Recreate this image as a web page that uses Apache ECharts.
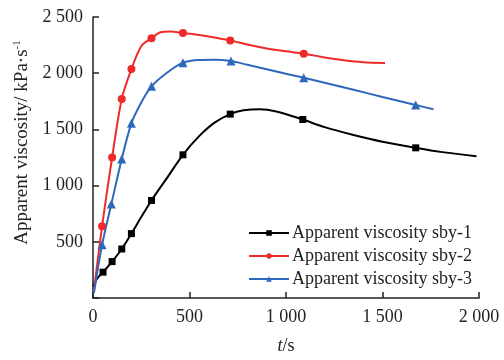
<!DOCTYPE html>
<html>
<head>
<meta charset="utf-8">
<script src="https://cdn.jsdelivr.net/npm/echarts@6/dist/echarts.min.js"></script>
<style>
	html, body { margin: 0; padding: 0; background: #fff; }
	#chart { width: 504px; height: 360px; }
</style>
</head>
<body>
<div id="chart"></div>
<script>
	// t/s and apparent viscosity (kPa·s^-1)
	const t1 = [0, 20, 52, 99, 149, 199, 250, 303, 380, 466, 550, 630, 711, 780, 865, 950, 1087, 1200, 1350, 1500, 1672, 1800, 1987];
	const v1 = [100, 170, 230, 324, 436, 573, 720, 868, 1060, 1274, 1440, 1560, 1636, 1670, 1680, 1660, 1588, 1520, 1450, 1390, 1336, 1300, 1262];
	const mark1 = [2, 3, 4, 5, 7, 9, 12, 16, 20];

	const t2 = [5, 47, 99, 149, 199, 250, 303, 350, 400, 466, 550, 630, 711, 800, 900, 1000, 1092, 1200, 1300, 1400, 1513];
	const v2 = [70, 639, 1250, 1771, 2037, 2240, 2311, 2365, 2372, 2357, 2340, 2318, 2292, 2255, 2220, 2195, 2174, 2140, 2115, 2098, 2091];
	const mark2 = [1, 2, 3, 4, 6, 9, 12, 16];

	const t3 = [5, 47, 95, 149, 199, 250, 303, 380, 466, 550, 630, 715, 800, 900, 1000, 1092, 1200, 1350, 1500, 1672, 1764];
	const v3 = [45, 473, 836, 1237, 1554, 1740, 1883, 2000, 2094, 2118, 2120, 2108, 2075, 2035, 1995, 1960, 1915, 1852, 1789, 1717, 1679];
	const mark3 = [1, 2, 3, 4, 6, 8, 11, 15, 19];

	const names = ['Apparent viscosity sby-1', 'Apparent viscosity sby-2', 'Apparent viscosity sby-3'];
	const colors = ['#000000', '#ee2a2a', '#2d68bc'];
	const symbols = ['rect', 'circle', 'triangle'];
	const symbolSizes = [7, 8, 9];

	const fontFamily = '"Liberation Serif", "DejaVu Serif", serif';
	const textColor = '#222';

	function buildData(ts, vs, marks) {
		return ts.map(function (t, i) {
			const item = { value: [t, vs[i]] };
			if (marks.indexOf(i) < 0) item.symbol = 'none';
			return item;
		});
	}

	function fmt(v) {
		if (v >= 1000) {
			const s = String(v);
			return s.slice(0, s.length - 3) + ' ' + s.slice(-3);
		}
		return String(v);
	}

	const seriesData = [buildData(t1, v1, mark1), buildData(t2, v2, mark2), buildData(t3, v3, mark3)];

	const chart = echarts.init(document.getElementById('chart'));
	chart.setOption({
		animation: false,
		backgroundColor: '#fff',
		textStyle: { fontFamily: fontFamily },
		grid: { left: 93, right: 25, top: 17, bottom: 52 },
		legend: {
			orient: 'vertical',
			right: 27,
			top: 219,
			itemWidth: 40,
			itemHeight: 7,
			itemGap: 5,
			textStyle: { fontFamily: fontFamily, fontSize: 18, color: textColor, padding: [0, 0, 0, -2] },
			data: names
		},
		xAxis: {
			type: 'value',
			min: 0,
			max: 2000,
			interval: 500,
			name: '{it|t}/s',
			nameLocation: 'middle',
			nameGap: 39,
			nameTextStyle: {
				fontFamily: fontFamily, fontSize: 18, color: textColor,
				rich: { it: { fontFamily: fontFamily, fontSize: 18, fontStyle: 'italic', color: textColor } }
			},
			axisLine: { lineStyle: { color: textColor, width: 1.5 } },
			axisTick: { inside: true, length: 6, lineStyle: { color: textColor, width: 1.5 } },
			axisLabel: { fontFamily: fontFamily, fontSize: 18, color: textColor, margin: 10, formatter: fmt },
			splitLine: { show: false }
		},
		yAxis: {
			type: 'value',
			min: 0,
			max: 2500,
			interval: 500,
			name: 'Apparent viscosity/ kPa·s{sup|-1}',
			nameLocation: 'middle',
			nameRotate: 90,
			nameGap: 61,
			nameTextStyle: {
				fontFamily: fontFamily, fontSize: 19, color: textColor,
				padding: [0, 0, 0, 30],
				rich: { sup: { fontFamily: fontFamily, fontSize: 11, color: textColor, verticalAlign: 'top', padding: [0, 0, 9, 0] } }
			},
			axisLine: { show: true, lineStyle: { color: textColor, width: 1.5 } },
			axisTick: { show: true, inside: true, length: 6, lineStyle: { color: textColor, width: 1.5 } },
			axisLabel: {
				fontFamily: fontFamily, fontSize: 18, color: textColor, margin: 10,
				formatter: function (v) { return v === 0 ? '' : fmt(v); }
			},
			splitLine: { show: false }
		},
		series: names.map(function (n, i) {
			return {
				name: n,
				type: 'line',
				data: seriesData[i],
				smooth: 0.3,
				color: colors[i],
				symbol: symbols[i],
				symbolSize: symbolSizes[i],
				lineStyle: { color: colors[i], width: 2 },
				itemStyle: { color: colors[i] }
			};
		})
	});
</script>
</body>
</html>
